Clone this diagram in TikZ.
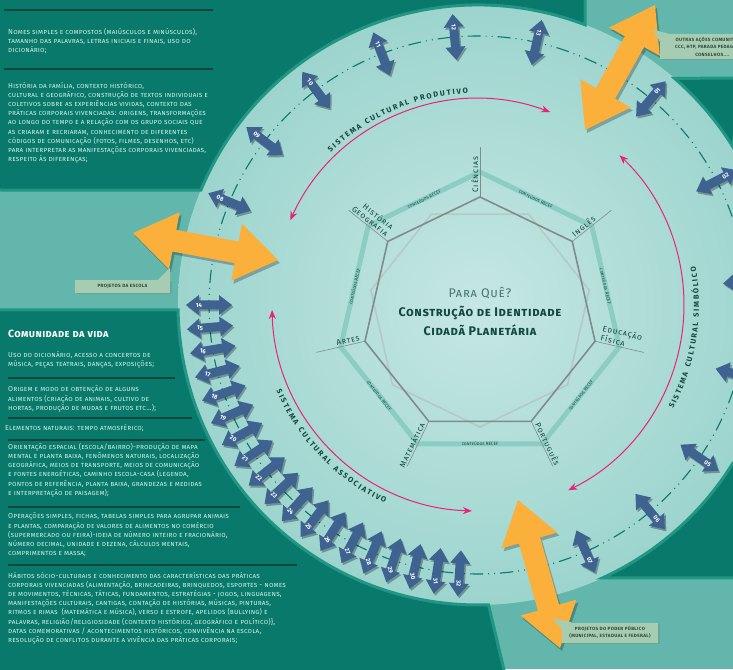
\documentclass[tikz,border=0pt]{standalone}
\usepackage{fontspec}
\setmainfont{Fira Sans}
\usetikzlibrary{calc,arrows.meta,decorations.text,shadows}

\definecolor{paneldark}{RGB}{8,121,106}
\definecolor{paneledge}{RGB}{34,150,132}
\definecolor{bgmid}{RGB}{98,182,172}
\definecolor{discin}{RGB}{198,231,227}
\definecolor{discout}{RGB}{120,196,187}
\definecolor{ruledark}{RGB}{6,72,62}
\definecolor{paneltext}{RGB}{205,236,226}
\definecolor{arrowblue}{RGB}{62,99,145}
\definecolor{arroworange}{RGB}{251,176,59}
\definecolor{cyclepink}{RGB}{232,36,120}
\definecolor{labeldark}{RGB}{18,72,64}
\definecolor{hepgray}{RGB}{128,140,140}
\definecolor{hepband}{RGB}{140,205,195}
\definecolor{calloutbg}{RGB}{166,204,178}
\definecolor{callouttext}{RGB}{45,70,58}
\definecolor{parateal}{RGB}{74,116,110}

\tikzset{
  panel/.style={fill=paneldark, draw=paneledge, line width=3pt},
  paneltxt/.style={anchor=north west, align=left, inner sep=0pt, text=paneltext,
    font=\fontsize{7.2}{9.2}\selectfont\scshape\addfontfeature{LetterSpace=2}},
  panelrule/.style={ruledark, line width=1.2pt},
  dashcirc/.style={paneldark, line width=1.1pt, dash pattern=on 13pt off 5pt on 1pt off 5pt on 1pt off 5pt},
  cyclearc/.style={cyclepink, line width=1pt, {Stealth[length=9pt,width=7pt]}-{Stealth[length=9pt,width=7pt]}},
  systxt/.style={decorate, decoration={text along path, text align={fit to path}, text color=labeldark}},
  numtxt/.style={text=white, inner sep=0pt, font=\fontsize{6}{6}\selectfont\bfseries},
  hepline/.style={hepgray, line width=.6pt},
  heplabel/.style={inner sep=1.5pt, text=labeldark, font=\fontsize{8}{8.5}\selectfont\scshape\addfontfeature{LetterSpace=10}},
  recef/.style={inner sep=0pt, text=labeldark, font=\fontsize{4.6}{5}\selectfont\scshape},
  callout/.style={fill=calloutbg, text=callouttext, align=center, inner sep=1pt,
    font=\fontsize{4.6}{7.4}\selectfont\bfseries\addfontfeature{LetterSpace=8},
    drop shadow={opacity=.35, shadow xshift=1.5pt, shadow yshift=-1.5pt}},
  centertxt/.style={text=labeldark, font=\fontsize{12.5}{14}\selectfont\scshape\bfseries\addfontfeature{LetterSpace=5}}
}

\newcommand{\numarrow}[3]{%
  \begin{scope}[shift={($(ring)+(#1:269)+(1.5,-2)$)}, rotate=#1]
    \fill[black, opacity=.3] (-23,0) -- (-10,10) -- (-10,4.5) -- (10,4.5) -- (10,10) -- (23,0) -- (10,-10) -- (10,-4.5) -- (-10,-4.5) -- (-10,-10) -- cycle;
  \end{scope}
  \begin{scope}[shift={($(ring)+(#1:269)$)}, rotate=#1]
    \fill[arrowblue] (-23,0) -- (-10,10) -- (-10,4.5) -- (10,4.5) -- (10,10) -- (23,0) -- (10,-10) -- (10,-4.5) -- (-10,-4.5) -- (-10,-10) -- cycle;
  \end{scope}
  \node[numtxt, rotate=#3] (n#2) at ($(ring)+(#1:279)$) {#2};}

\newcommand{\bigarrow}[3]{%
  \begin{scope}[shift={#1}, shift={(2,-3)}, rotate=#2]
    \fill[black, opacity=.25] (-#3,0) -- ({-#3+42},29) -- ({-#3+42},11) -- ({#3-42},11) -- ({#3-42},29) -- (#3,0) -- ({#3-42},-29) -- ({#3-42},-11) -- ({-#3+42},-11) -- ({-#3+42},-29) -- cycle;
  \end{scope}
  \begin{scope}[shift={#1}, rotate=#2]
    \fill[arroworange] (-#3,0) -- ({-#3+42},29) -- ({-#3+42},11) -- ({#3-42},11) -- ({#3-42},29) -- (#3,0) -- ({#3-42},-29) -- ({#3-42},-11) -- ({-#3+42},-11) -- ({-#3+42},-29) -- cycle;
  \end{scope}}

\begin{document}
\begin{tikzpicture}[x=1pt, y=1pt]
  \useasboundingbox (0,0) rectangle (733,669);
  \clip (0,0) rectangle (733,669);
  \coordinate (ring) at (478,364);
  \coordinate (hep) at (480,354);

  \fill[bgmid] (0,0) rectangle (733,669);
  \begin{scope}
    \clip (ring) circle (300);
    \shade[inner color=discin, outer color=discout] (ring) circle (560);
  \end{scope}

  \fill[panel] (-5,674) -- (585,674) -- ($(ring)+(69.1:300)$) arc[start angle=69.1, end angle=157.5, radius=300] -- (-5,479) -- cycle;
  \fill[panel] (-5,359) -- ($(ring)+(180.95:300)$) arc[start angle=180.95, end angle=272, radius=300] -- (505,-5) -- (-5,-5) -- cycle;
  \fill[panel] (740,591) -- ($(ring)+(31.8:300)$) arc[start angle=31.8, end angle=49.05, radius=300] -- cycle;
  \fill[panel] ($(ring)+(-31.8:300)$) arc[start angle=-31.8, end angle=-65.5, radius=300] -- (740,91) -- (740,206) -- cycle;

  \draw[panelrule] (4,659) -- (213,659);
  \node[paneltxt] (nomes) at (8,641) {Nomes simples e compostos (maiúsculos e minúsculos),\\tamanho das palavras, letras iniciais e finais, uso do\\dicionário;};
  \draw[panelrule] (4,600) -- (213,600);
  \node[paneltxt] (historia) at (8,587) {História da família, contexto histórico,\\cultural e geográfico, construção de textos individuais e\\coletivos sobre as experiências vividas, contexto das\\práticas corporais vivenciadas: origens, transformações\\ao longo do tempo e a relação com os grupo sociais que\\as criaram e recriaram, conhecimento de diferentes\\códigos de comunicação (fotos, filmes, desenhos, etc)\\para interpretar as manifestações corporais vivenciadas,\\respeito às diferenças;};

  \node[paneltxt, font=\fontsize{10.5}{11}\selectfont\scshape\bfseries\addfontfeature{LetterSpace=4}, text=white] (comunidade) at (8,339) {Comunidade da vida};
  \node[paneltxt] (dicionario) at (8,318) {Uso do dicionário, acesso a concertos de\\música, peças teatrais, danças, exposições;};
  \draw[panelrule] (8,291) -- (175,291);
  \node[paneltxt] (origem) at (8,283) {Origem e modo de obtenção de alguns\\alimentos (criação de animais, cultivo de\\hortas, produção de mudas e frutos etc...);};
  \draw[panelrule] (8,251) -- (192,251);
  \node[paneltxt] (elementos) at (5,245) {Elementos naturais: tempo atmosférico;};
  \draw[panelrule] (8,229) -- (205,229);
  \node[paneltxt] (orientacao) at (8,226) {Orientação espacial (escola/bairro)-produção de mapa\\mental e planta baixa, fenômenos naturais, localização\\geográfica, meios de transporte, meios de comunicação\\e fontes energéticas, caminho escola-casa (legenda,\\pontos de referência, planta baixa, grandezas e medidas\\e interpretação de paisagem);};
  \draw[panelrule] (8,162) -- (240,162);
  \node[paneltxt] (operacoes) at (8,156) {Operações simples, fichas, tabelas simples para agrupar animais\\e plantas, comparação de valores de alimentos no comércio\\(supermercado ou feira)-ideia de número inteiro e fracionário,\\número decimal, unidade e dezena, cálculos mentais,\\comprimentos e massa;};
  \draw[panelrule] (8,104) -- (297,104);
  \node[paneltxt] (habitos) at (8,97) {Hábitos sócio-culturais e conhecimento das características das práticas\\corporais vivenciadas (alimentação, brincadeiras, brinquedos, esportes - nomes\\de movimentos, técnicas, táticas, fundamentos, estratégias - jogos, linguagens,\\manifestações culturais, cantigas, contação de histórias, músicas, pinturas,\\ritmos e rimas \ (matemática e música), verso e estrofe, apelidos (bullying) e\\palavras, religião/religiosidade (contexto histórico, geográfico e político)\},\\datas comemorativas / acontecimentos históricos, convivência na escola,\\resolução de conflitos durante a vivência das práticas corporais;};

  \draw[dashcirc] (ring) circle (269);

  \draw[cyclearc] ($(ring)+(69.5:206)$) arc[start angle=69.5, end angle=155.7, radius=206];
  \draw[cyclearc] ($(ring)+(-64:206)$) arc[start angle=-64, end angle=46.6, radius=206];
  \draw[cyclearc] ($(ring)+(181.4:206)$) arc[start angle=181.4, end angle=268.3, radius=206];
  \path[systxt, decoration={text={|\fontsize{7.5}{8}\selectfont\bfseries|SISTEMA CULTURAL PRODUTIVO}}] ($(ring)+(134:212)$) arc[start angle=134, end angle=92.7, radius=212];
  \path[systxt, decoration={text={|\fontsize{7.5}{8}\selectfont\bfseries|SISTEMA CULTURAL SIMBÓLICO}}] ($(ring)+(-28:221)$) arc[start angle=-28, end angle=10, radius=221];
  \path[systxt, decoration={text={|\fontsize{7.5}{8}\selectfont\bfseries|SISTEMA CULTURAL ASSOCIATIVO}}] ($(ring)+(203:219)$) arc[start angle=203, end angle=244.8, radius=219];

  \begin{scope}[shift={(hep)}]
    \draw[hepband, line width=5pt] (90:143) \foreach \k in {1,...,6} { -- ({90-\k*360/7}:143) } -- cycle;
    \draw[hepgray!60, opacity=.6, line width=1.6pt] (270:112) \foreach \k in {1,...,6} { -- ({270-\k*360/7}:112) } -- cycle;
    \draw[hepgray, line width=1.6pt] (90:118) \foreach \k in {1,...,6} { -- ({90-\k*360/7}:118) } -- cycle;
    \foreach \k in {0,...,6}
      \path ({90-\k*360/7}:143) -- ({90-(\k+1)*360/7}:143) node[recef, midway, sloped] {conteúdos RECEF};
    \foreach \ang/\rot/\anc/\aln/\lab/\nm in {
      90/90/south west/left/Ciências/cien,
      38.57/38.57/south west/left/Inglês/ingl,
      -12.86/-12.86/south west/left/{Educação\\Física}/edfis,
      -64.29/-64.29/south west/left/Português/port,
      244.29/64.29/south east/right/Matemática/mat,
      192.86/12.86/south east/right/Artes/art,
      141.43/-38.57/south east/right/{História\\Geografia}/hisgeo} {
      \draw[hepline] (\ang:118) -- (\ang:168);
      \node[heplabel, rotate=\rot, anchor=\anc, align=\aln] (\nm) at (\ang:121) {\lab};
    }
  \end{scope}

  \node[centertxt, text=parateal, font=\fontsize{12.5}{14}\selectfont\scshape\addfontfeature{LetterSpace=6}] (para) at (480,376) {Para Quê?};
  \node[centertxt] (ident) at (480,356) {Construção de Identidade};
  \node[centertxt] (cidada) at (480,339) {Cidadã Planetária};

  \foreach \ang/\num/\trot in {50/01/50, 27.5/02/27.5, 5/03/5, -15/04/-15, -34.6/05/-34.6, -50.2/06/-50.2, -66.4/07/-66.4,
      157.5/08/-22.5, 142.5/09/-37.5, 127/10/-53, 111/11/-69, 95/12/-85, 77.4/13/-102.6}
    \numarrow{\ang}{\num}{\trot};
  \foreach \i in {14,...,32} {
    \pgfmathsetmacro\ang{180+(\i-14)*4.78}
    \pgfmathsetmacro\trot{-5*(\i-14)}
    \numarrow{\ang}{\i}{\trot}
  }

  \bigarrow{(620,601.5)}{60.75}{71.6}
  \bigarrow{(205.5,422.5)}{-10.55}{73.7}
  \bigarrow{(539,95)}{-74.16}{76.9}

  \node[callout, minimum width=95, minimum height=13] (escola) at (122.5,382.5) {PROJETOS DA ESCOLA};
  \fill[calloutbg] ($(escola.north east)+(-12,0)$) -- ($(escola.north east)+(0,12)$) -- (escola.north east) -- cycle;
  \node[callout, minimum width=104, minimum height=25, anchor=west] (outras) at (660,622.5) {OUTRAS AÇÕES COMUNITÁRIAS,\\CCC, HTP, PARADA PEDAGÓGICA,\\CONSELHOS....};
  \fill[calloutbg] ($(outras.north west)+(0,-8)$) -- ($(outras.north west)+(-7,4)$) -- ($(outras.north west)+(9,0)$) -- cycle;
  \node[callout, minimum width=96, minimum height=20] (publico) at (610,36.5) {PROJETOS DO PODER PÚBLICO\\(MUNICIPAL, ESTADUAL E FEDERAL)};
  \fill[calloutbg] ($(publico.north west)+(0,-7)$) -- ($(publico.north west)+(-9,4)$) -- ($(publico.north west)+(10,0)$) -- cycle;
\end{tikzpicture}
\end{document}
